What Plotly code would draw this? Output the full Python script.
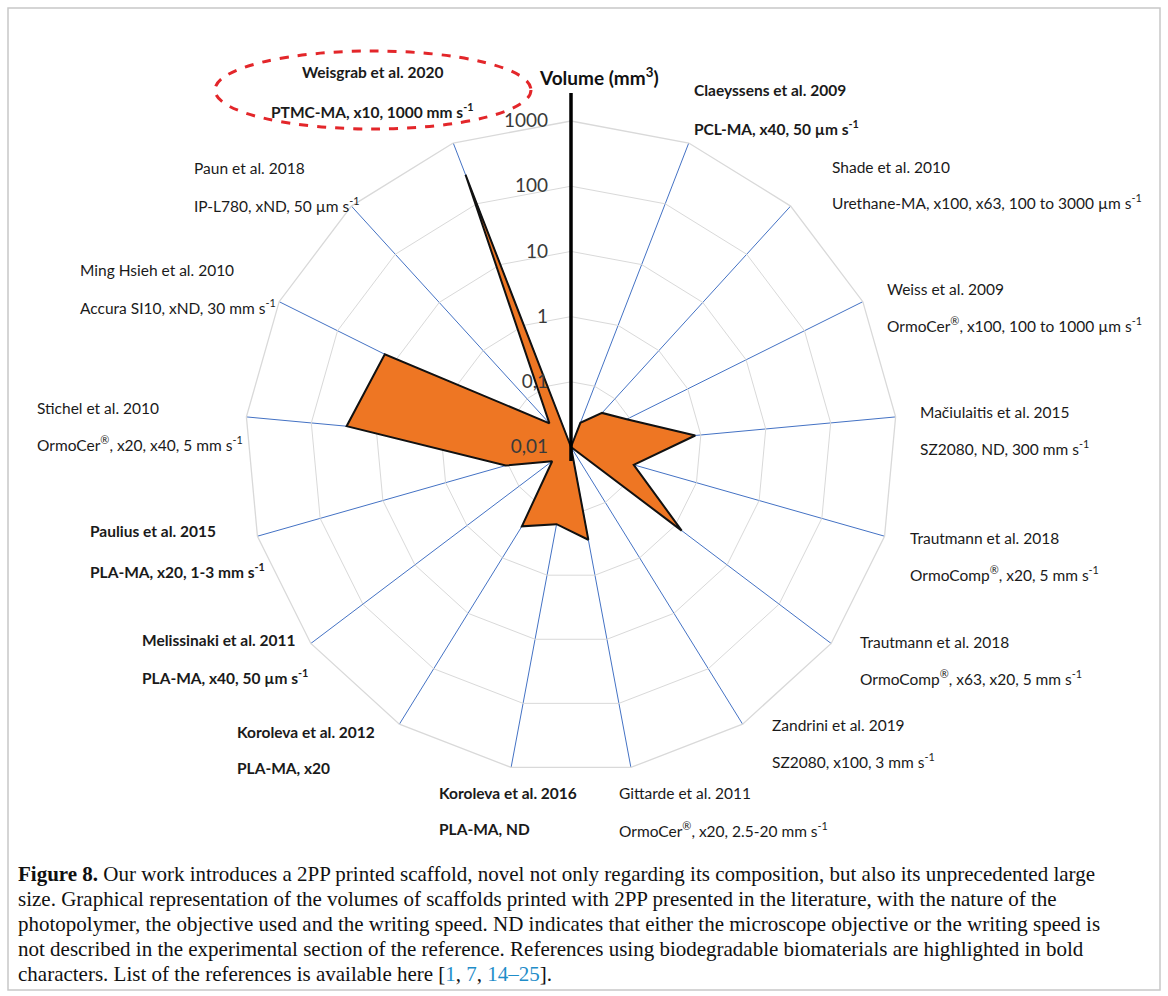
import plotly.graph_objects as go

W, H = 1168, 996

# ---------------- data ----------------
categories = ["top", "Claeyssens 2009", "Shade 2010", "Weiss 2009", "Mačiulaitis 2015",
              "Trautmann 2018 a", "Trautmann 2018 b", "Zandrini 2019", "Gittarde 2011",
              "Koroleva 2016", "Koroleva 2012", "Melissinaki 2011", "Paulius 2015",
              "Stichel 2010", "Ming Hsieh 2010", "Paun 2018", "Weisgrab 2020"]
volumes_mm3 = [0.01, 0.025, 0.051, 0.09, 0.82, 0.10, 1.34, 0.01, 0.28, 0.16, 0.27,
               0.023, 0.11, 28.6, 15.5, 0.031, 300]

label_names = ["Claeyssens et al. 2009", "Shade et al. 2010", "Weiss et al. 2009",
               "Mačiulaitis et al. 2015", "Trautmann et al. 2018", "Trautmann et al. 2018",
               "Zandrini et al. 2019", "Gittarde et al. 2011", "Koroleva et al. 2016",
               "Koroleva et al. 2012", "Melissinaki et al. 2011", "Paulius et al. 2015",
               "Stichel et al. 2010", "Ming Hsieh et al. 2010", "Paun et al. 2018",
               "Weisgrab et al. 2020"]
label_details = ["PCL-MA, x40, 50 µm s<sup>-1</sup>",
                 "Urethane-MA, x100, x63, 100 to 3000 µm s<sup>-1</sup>",
                 "OrmoCer<sup>®</sup>, x100, 100 to 1000 µm s<sup>-1</sup>",
                 "SZ2080, ND, 300 mm s<sup>-1</sup>",
                 "OrmoComp<sup>®</sup>, x20, 5 mm s<sup>-1</sup>",
                 "OrmoComp<sup>®</sup>, x63, x20, 5 mm s<sup>-1</sup>",
                 "SZ2080, x100, 3 mm s<sup>-1</sup>",
                 "OrmoCer<sup>®</sup>, x20, 2.5-20 mm s<sup>-1</sup>",
                 "PLA-MA, ND",
                 "PLA-MA, x20",
                 "PLA-MA, x40, 50 µm s<sup>-1</sup>",
                 "PLA-MA, x20, 1-3 mm s<sup>-1</sup>",
                 "OrmoCer<sup>®</sup>, x20, x40, 5 mm s<sup>-1</sup>",
                 "Accura SI10, xND, 30 mm s<sup>-1</sup>",
                 "IP-L780, xND, 50 µm s<sup>-1</sup>",
                 "PTMC-MA, x10, 1000 mm s<sup>-1</sup>"]
label_bold = [True, False, False, False, False, False, False, False, True, True, True,
              True, False, False, False, True]

tick_values = [0.01, 0.1, 1, 10, 100, 1000]
tick_labels = ["0,01", "0,1", "1", "10", "100", "1000"]

caption_lines = [
    "<b>Figure 8.</b> Our work introduces a 2PP printed scaffold, novel not only regarding its composition, but also its unprecedented large",
    "size. Graphical representation of the volumes of scaffolds printed with 2PP presented in the literature, with the nature of the",
    "photopolymer, the objective used and the writing speed. ND indicates that either the microscope objective or the writing speed is",
    "not described in the experimental section of the reference. References using biodegradable biomaterials are highlighted in bold",
    "characters. List of the references is available here [<span style='color:#1f8dc9'>1</span>, <span style='color:#1f8dc9'>7</span>, <span style='color:#1f8dc9'>14–25</span>].",
]

# ---------------- layout helpers ----------------
def px(x):
    return x / W

def py(y):
    return 1 - y / H

CX, CY, R = 571, 447, 326
FONT = "Lato, 'Open Sans', sans-serif"

# label anchor positions (pixels)
label_pos = [(692, 90, 127), (830, 167, 202), (885, 289, 324), (918, 412, 447),
             (908, 538, 573), (858, 642, 677), (770, 725, 760), (617, 793, 829),
             (437, 793, 829), (235, 732, 768), (140, 640, 676), (88, 531, 570),
             (35, 408, 443), (78, 270, 306), (192, 168, 204), (372, 72, 110)]

fig = go.Figure()

fig.add_trace(go.Scatterpolar(
    r=volumes_mm3 + volumes_mm3[:1],
    theta=categories + categories[:1],
    mode="lines",
    fill="toself",
    fillcolor="#EE7623",
    line=dict(color="#111111", width=2),
    hoverinfo="skip",
    showlegend=False,
))

fig.update_layout(
    width=W, height=H,
    margin=dict(l=0, r=0, t=0, b=0),
    paper_bgcolor="white",
    plot_bgcolor="white",
    showlegend=False,
    polar=dict(
        domain=dict(x=[px(CX - R), px(CX + R)], y=[py(CY + R), py(CY - R)]),
        bgcolor="white",
        gridshape="linear",
        angularaxis=dict(
            type="category",
            categoryarray=categories,
            rotation=90,
            direction="clockwise",
            showticklabels=False,
            ticks="",
            showgrid=True,
            gridcolor="#4472C4",
            gridwidth=1.3,
            showline=True,
            linecolor="#d9d9d9",
            linewidth=1.3,
            layer="above traces",
        ),
        radialaxis=dict(
            type="log",
            range=[-2, 3],
            angle=90,
            side="counterclockwise",
            tickangle=90,
            tickvals=tick_values,
            ticktext=[t + "\u00a0\u00a0\u00a0" for t in tick_labels],
            ticks="",
            showgrid=True,
            gridcolor="#d9d9d9",
            gridwidth=1.3,
            showline=True,
            linecolor="black",
            linewidth=3.5,
            tickfont=dict(family=FONT, size=19, color="#3a3a3a"),
            layer="above traces",
        ),
    ),
)

shapes = []
# radial axis extension above outer ring and slightly below centre
shapes.append(dict(type="line", xref="paper", yref="paper",
                   x0=px(CX), x1=px(CX), y0=py(CY - R), y1=py(93),
                   line=dict(color="black", width=3.5)))
shapes.append(dict(type="line", xref="paper", yref="paper",
                   x0=px(CX), x1=px(CX), y0=py(CY), y1=py(CY + 14),
                   line=dict(color="black", width=3.5)))
# red dashed ellipse around Weisgrab
shapes.append(dict(type="circle", xref="paper", yref="paper",
                   x0=px(215), x1=px(531), y0=py(129), y1=py(51),
                   line=dict(color="#E3262A", width=3, dash="dash")))
# frame
shapes.append(dict(type="rect", xref="paper", yref="paper",
                   x0=px(8), x1=px(1160), y0=py(990), y1=py(8),
                   line=dict(color="#c8c8c8", width=1.5)))
fig.update_layout(shapes=shapes)

ann = []
ann.append(dict(text="<b>Volume (mm<sup>3</sup>)</b>", x=px(599), y=py(76),
                xref="paper", yref="paper", showarrow=False, xanchor="center",
                yanchor="middle", font=dict(family=FONT, size=19, color="#111111")))
for i in range(len(label_names)):
    x0, y1, y2 = label_pos[i]
    n = label_names[i]
    d = label_details[i]
    if label_bold[i]:
        n = "<b>" + n + "</b>"
        d = "<b>" + d + "</b>"
    anchor = "center" if i == len(label_names) - 1 else "left"
    for txt, yy in ((n, y1), (d, y2)):
        ann.append(dict(text=txt, x=px(x0), y=py(yy), xref="paper", yref="paper",
                        showarrow=False, xanchor=anchor, yanchor="middle",
                        font=dict(family=FONT, size=15.5, color="#1a1a1a")))
for k, line in enumerate(caption_lines):
    ann.append(dict(text=line, x=px(16), y=py(874 + 25 * k), xref="paper", yref="paper",
                    showarrow=False, xanchor="left", yanchor="middle",
                    font=dict(family="'Liberation Serif', serif", size=21, color="#111111")))
fig.update_layout(annotations=ann)

fig.write_html("out.html", config={"displayModeBar": False},
               post_script="document.body.style.margin='0';")
